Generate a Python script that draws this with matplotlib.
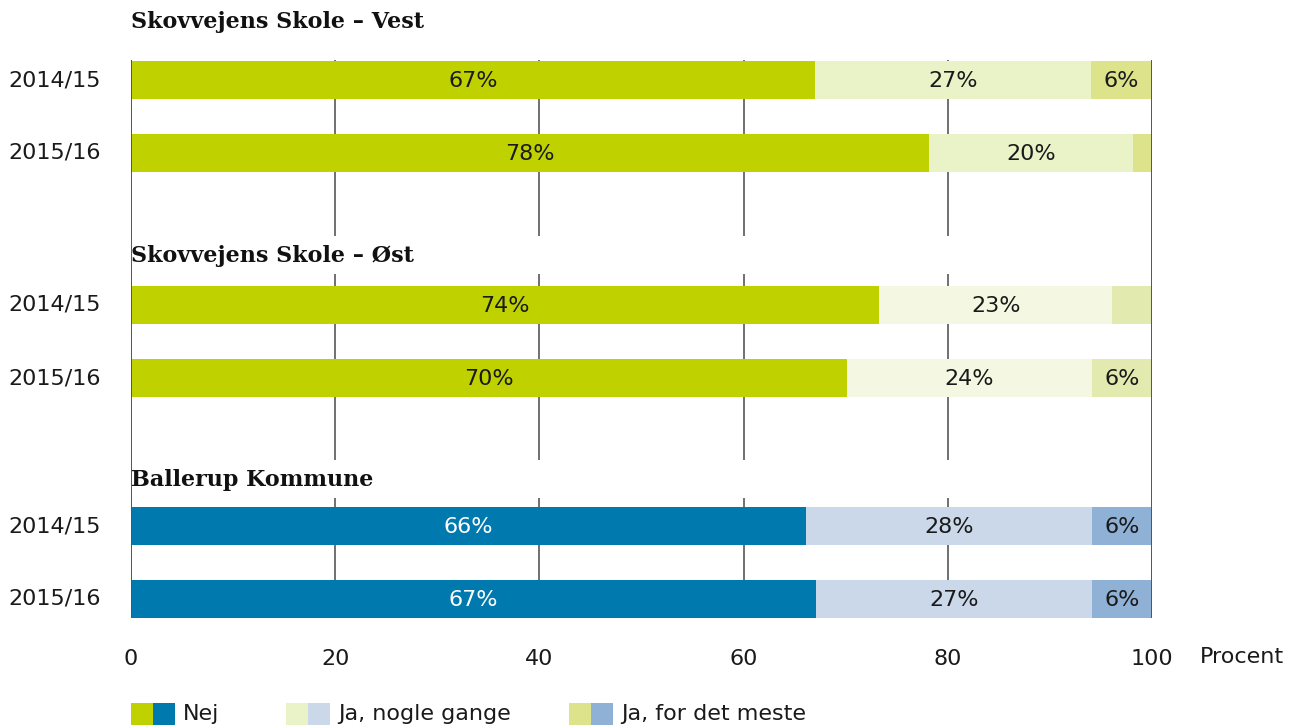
import matplotlib
matplotlib.use("Agg")
import matplotlib.pyplot as plt
from matplotlib.patches import Rectangle

# ---------------- data ----------------
groups = ["Skovvejens Skole – Vest", "Skovvejens Skole – Øst", "Ballerup Kommune"]
years = ["2014/15", "2015/16"]
nej = [[67.0, 78.2], [73.3, 70.1], [66.1, 67.1]]
nogle = [[27.0, 19.9], [22.8, 24.0], [28.0, 27.0]]
meste = [[6.0, 1.9], [3.9, 5.9], [5.9, 5.9]]
nej_lbl = [["67%", "78%"], ["74%", "70%"], ["66%", "67%"]]
nogle_lbl = [["27%", "20%"], ["23%", "24%"], ["28%", "27%"]]
meste_lbl = [["6%", ""], ["", "6%"], ["6%", "6%"]]
xticks = [0, 20, 40, 60, 80, 100]
legend_labels = ["Nej", "Ja, nogle gange", "Ja, for det meste"]

# colours per group: (nej, nogle, meste)
colors = [
    ("#bfd200", "#eaf2c8", "#dce38b"),
    ("#bfd200", "#f4f8e2", "#e3eab0"),
    ("#0079ae", "#cbd8ea", "#8fb1d6"),
]
dark = "#1a1a1a"

W, H = 1292, 728
fig = plt.figure(figsize=(W / 100, H / 100), dpi=100)

# axes: x 0..100 -> px 131..1152 ; y in pixel units 60..618
x0, x1, ytop, ybot = 131, 1152, 60, 618
ax = fig.add_axes([x0 / W, 1 - ybot / H, (x1 - x0) / W, (ybot - ytop) / H])
ax.set_xlim(0, 100)
ax.set_ylim(ybot, ytop)
for s in ax.spines.values():
    s.set_visible(False)
ax.set_yticks([])
ax.set_xticks(xticks)
ax.set_xticklabels([str(t) for t in xticks], fontsize=16, color=dark)
ax.tick_params(axis="x", length=0, pad=22)

group_base = [80, 305, 526]
row_gap = 73
bar_h = 38
title_y = [22, 256, 480]

# gridlines
for t in xticks:
    z = 3 if t in (0, 100) else 0.5
    col = "#555555" if t in (0, 100) else "#707070"
    ax.axvline(t, color=col, lw=1.4, zorder=z)

# white bands behind group titles (gaps in gridlines)
for g in range(1, 3):
    ax.axhspan(title_y[g] - 20, title_y[g] + 18, color="white", zorder=1, lw=0)

for g in range(3):
    for r in range(2):
        y = group_base[g] + r * row_gap
        left = 0
        segs = [nej[g][r], nogle[g][r], meste[g][r]]
        lbls = [nej_lbl[g][r], nogle_lbl[g][r], meste_lbl[g][r]]
        for k in range(3):
            ax.barh(y, segs[k], left=left, height=bar_h, color=colors[g][k],
                    zorder=2, lw=0)
            if lbls[k]:
                tc = "white" if (g == 2 and k == 0) else dark
                ax.text(left + segs[k] / 2, y + 1, lbls[k], ha="center", va="center",
                        fontsize=16, color=tc, zorder=4)
            left += segs[k]
        ax.text(-12.05, y, years[r], ha="left", va="center", fontsize=16,
                color=dark, clip_on=False)
    ax.text(0, title_y[g], groups[g], ha="left", va="center", fontsize=16,
            fontweight="bold", family="DejaVu Serif", color="#111111",
            clip_on=False, zorder=5)

# "Procent"
fig.text(1200 / W, 1 - 657 / H, "Procent", ha="left", va="center", fontsize=16,
         color=dark)

# legend (pixel coordinates overlay)
lax = fig.add_axes([0, 0, 1, 1], zorder=-1)
lax.set_xlim(0, W)
lax.set_ylim(H, 0)
lax.axis("off")
leg_x = [131, 286, 569]
for i, lx in enumerate(leg_x):
    lax.add_patch(Rectangle((lx, 703), 22, 22, color=colors[0][i], lw=0))
    lax.add_patch(Rectangle((lx + 22, 703), 22, 22, color=colors[2][i], lw=0))
    lax.text(lx + 52, 714, legend_labels[i], ha="left", va="center", fontsize=16,
             color=dark)

fig.savefig("out.png", dpi=100)
